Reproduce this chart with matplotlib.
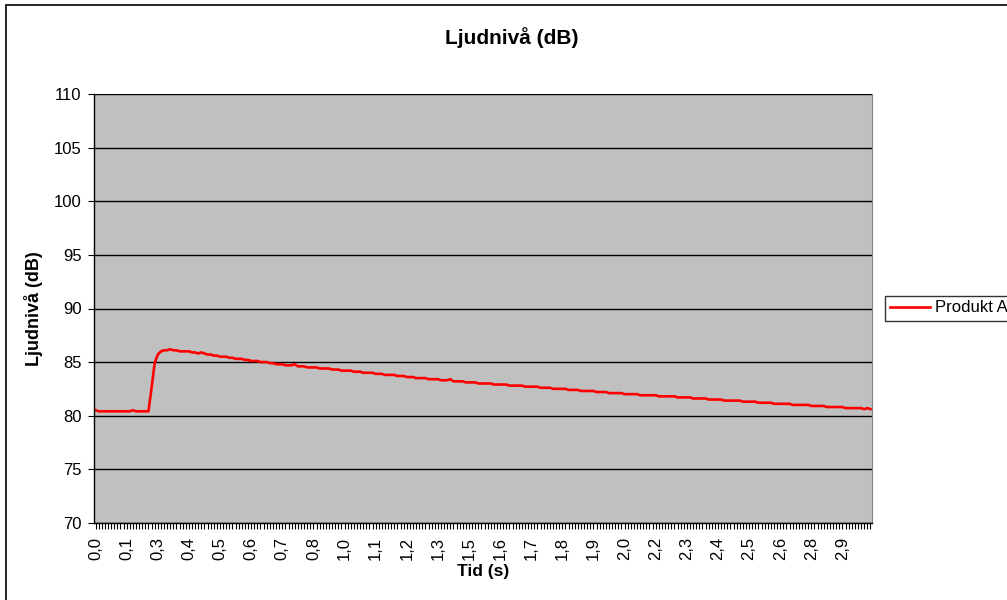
import numpy as np
import matplotlib.pyplot as plt
from matplotlib.patches import Rectangle
from matplotlib.ticker import MultipleLocator

plt.rcParams['font.family'] = ['Liberation Sans', 'DejaVu Sans']

# ljudnivå per mätpunkt (dB), tio punkter per rad
niva = [
    80.5, 80.4, 80.4, 80.4, 80.4, 80.4, 80.4, 80.4, 80.4, 80.4,
    80.4, 80.4, 80.5, 80.4, 80.4, 80.4, 80.4, 80.4, 82.6, 84.9,
    85.7, 86.0, 86.1, 86.1, 86.2, 86.1, 86.1, 86.0, 86.0, 86.0,
    86.0, 85.9, 85.9, 85.8, 85.9, 85.8, 85.7, 85.7, 85.6, 85.6,
    85.5, 85.5, 85.5, 85.4, 85.4, 85.3, 85.3, 85.3, 85.2, 85.2,
    85.1, 85.1, 85.1, 85.0, 85.0, 85.0, 84.9, 84.9, 84.8, 84.8,
    84.8, 84.7, 84.7, 84.7, 84.8, 84.6, 84.6, 84.6, 84.5, 84.5,
    84.5, 84.5, 84.4, 84.4, 84.4, 84.4, 84.3, 84.3, 84.3, 84.2,
    84.2, 84.2, 84.2, 84.1, 84.1, 84.1, 84.0, 84.0, 84.0, 84.0,
    83.9, 83.9, 83.9, 83.8, 83.8, 83.8, 83.8, 83.7, 83.7, 83.7,
    83.6, 83.6, 83.6, 83.5, 83.5, 83.5, 83.5, 83.4, 83.4, 83.4,
    83.4, 83.3, 83.3, 83.3, 83.4, 83.2, 83.2, 83.2, 83.2, 83.1,
    83.1, 83.1, 83.1, 83.0, 83.0, 83.0, 83.0, 83.0, 82.9, 82.9,
    82.9, 82.9, 82.9, 82.8, 82.8, 82.8, 82.8, 82.8, 82.7, 82.7,
    82.7, 82.7, 82.7, 82.6, 82.6, 82.6, 82.6, 82.5, 82.5, 82.5,
    82.5, 82.5, 82.4, 82.4, 82.4, 82.4, 82.3, 82.3, 82.3, 82.3,
    82.3, 82.2, 82.2, 82.2, 82.2, 82.1, 82.1, 82.1, 82.1, 82.1,
    82.0, 82.0, 82.0, 82.0, 82.0, 81.9, 81.9, 81.9, 81.9, 81.9,
    81.9, 81.8, 81.8, 81.8, 81.8, 81.8, 81.8, 81.7, 81.7, 81.7,
    81.7, 81.7, 81.6, 81.6, 81.6, 81.6, 81.6, 81.5, 81.5, 81.5,
    81.5, 81.5, 81.4, 81.4, 81.4, 81.4, 81.4, 81.4, 81.3, 81.3,
    81.3, 81.3, 81.3, 81.2, 81.2, 81.2, 81.2, 81.2, 81.1, 81.1,
    81.1, 81.1, 81.1, 81.1, 81.0, 81.0, 81.0, 81.0, 81.0, 81.0,
    80.9, 80.9, 80.9, 80.9, 80.9, 80.8, 80.8, 80.8, 80.8, 80.8,
    80.8, 80.7, 80.7, 80.7, 80.7, 80.7, 80.7, 80.6, 80.7, 80.6,
]

tid_etiketter = ["0,0", "0,1", "0,3", "0,4", "0,5", "0,6", "0,7", "0,8", "1,0", "1,1",
                 "1,2", "1,3", "1,5", "1,6", "1,7", "1,8", "1,9", "2,0", "2,2", "2,3",
                 "2,4", "2,5", "2,6", "2,8", "2,9"]

y_ticks = [70, 75, 80, 85, 90, 95, 100, 105, 110]

W, H = 1007, 600
fig = plt.figure(figsize=(W / 100, H / 100), dpi=100)

# ram runt diagramområdet
fig.patches.append(Rectangle((6 / W, -0.05), 1.1, 1 - 5 / H + 0.05, transform=fig.transFigure,
                             fill=False, edgecolor='black', linewidth=1.2))

ax = fig.add_axes([94 / W, 1 - 522.7 / H, (872 - 94) / W, 428.4 / H])
ax.set_facecolor('#C0C0C0')

x = np.arange(len(niva))
ax.plot(x, niva, color='#FF0000', linewidth=1.9, label='Produkt A')

ax.set_xlim(-0.5, len(niva) - 0.5)
ax.set_ylim(70, 110)
ax.set_yticks(y_ticks)
ax.yaxis.grid(True, color='black', linewidth=1)
ax.set_axisbelow(True)

ax.set_xticks(np.arange(0, len(niva), 10))
ax.set_xticklabels(tid_etiketter, rotation=90, fontsize=12)
ax.xaxis.set_minor_locator(MultipleLocator(1))
ax.tick_params(axis='x', which='both', direction='out', length=4, width=0.8, pad=6)
ax.tick_params(axis='y', direction='out', length=4, width=0.8, labelsize=12, pad=5)

for side in ['left', 'bottom']:
    ax.spines[side].set_linewidth(1.0)
ax.spines['top'].set_visible(False)
ax.spines['right'].set_color('#808080')

ax.set_ylabel('Ljudnivå (dB)', fontsize=13, fontweight='bold', labelpad=8)
ax.set_xlabel('Tid (s)', fontsize=12.5, fontweight='bold', labelpad=3)

fig.text(512 / W, 1 - 38 / H, 'Ljudnivå (dB)', fontsize=15, fontweight='bold',
         ha='center', va='center')

leg = fig.legend(loc='center left', bbox_to_anchor=(885 / W, 1 - 308 / H), fontsize=12,
                 frameon=True, fancybox=False, edgecolor='black', handlelength=2.4,
                 borderpad=0.3, handletextpad=0.3, borderaxespad=0)
leg.get_frame().set_linewidth(1.0)

fig.savefig('out.png', dpi=100)
